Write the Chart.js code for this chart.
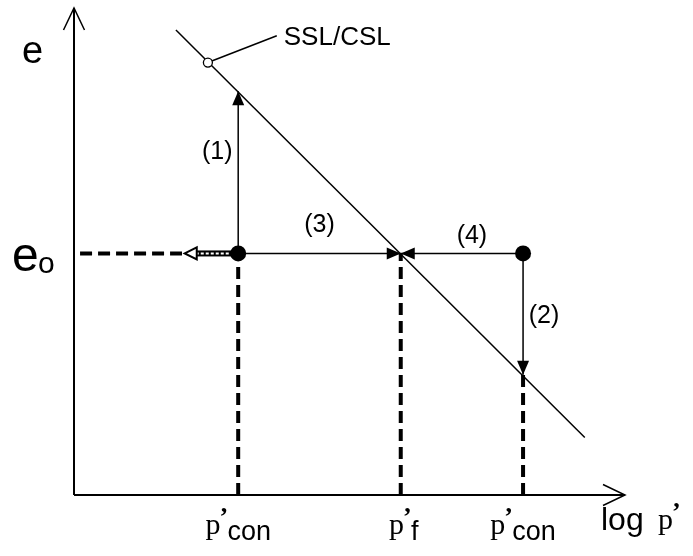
<!DOCTYPE html>
<html>
<head>
<meta charset="utf-8">
<script src="https://cdn.jsdelivr.net/npm/chart.js@4"></script>
<style>
  html, body { margin: 0; padding: 0; background: #fff; }
  #wrap { width: 693px; height: 556px; position: relative; }
</style>
</head>
<body>
<div id="wrap"><canvas id="chart"></canvas></div>
<script>
// ---- state path values: x = log p', y = void ratio e ----
const axisMax = 10;
const logP = [2.98, 5.93, 8.15];            // p'con (dense side), p'f, p'con (loose side)
const logPLabels = [['p', 'con'], ['p', 'f'], ['p', 'con']];
const eO = 4.96;                             // initial void ratio e_o
const eOnSSL = [8.29, 4.96, 2.47];           // e on the SSL/CSL at each logP
const sslLogP = [1.85, 9.27];                // steady / critical state line
const sslE = [9.55, 1.18];
const sslMarker = [2.43, 8.88];              // open circle on the SSL + its tag
const sslTag = [3.68, 9.43];
const eoProjection = [0.11, 1.96];           // dashed e_o read-off to the axis
const eoArrowTip = 2.01;
const pathLabels = ['(1)', '(2)', '(3)', '(4)'];

const SANS = '"Liberation Sans", Arial, sans-serif';
const SERIF = '"Liberation Serif", "Times New Roman", serif';

function seg(pts, extra) {
  return Object.assign({
    data: pts.map(p => ({ x: p[0], y: p[1] })),
    showLine: true,
    borderColor: '#000',
    borderWidth: 1.5,
    pointRadius: 0,
    fill: false,
    clip: false
  }, extra || {});
}

// listed bottom layer first
const layers = [
  // e and log p' axes
  seg([[0, 0], [axisMax, 0]], { borderWidth: 2, arrow: 'open' }),
  seg([[0, 0], [0, axisMax]], { borderWidth: 2, arrow: 'open' }),
  // dashed drops to the log p' axis
  ...logP.map((x, i) => seg([[x, 0], [x, Math.min(eO, eOnSSL[i])]],
    { borderWidth: 4, borderDash: [12, 6] })),
  seg([[eoProjection[0], eO], [eoProjection[1], eO]], { borderWidth: 4, borderDash: [12, 6] }),
  // SSL/CSL
  seg([[sslLogP[0], sslE[0]], [sslLogP[1], sslE[1]]]),
  seg([sslMarker, sslTag]),
  // paths (1)..(4)
  seg([[logP[0], eO], [logP[0], eOnSSL[0]]], { arrow: 'solid' }),
  seg([[logP[2], eO], [logP[2], eOnSSL[2]]], { arrow: 'solid' }),
  seg([[logP[0], eO], [logP[1], eO]], { arrow: 'solid' }),
  seg([[logP[2], eO], [logP[1], eO]], { arrow: 'solid' }),
  // start states
  {
    data: [{ x: logP[0], y: eO }, { x: logP[2], y: eO }],
    showLine: false, pointRadius: 8, pointBackgroundColor: '#000',
    pointBorderColor: '#000', pointBorderWidth: 0, clip: false
  },
  {
    data: [{ x: sslMarker[0], y: sslMarker[1] }],
    showLine: false, pointRadius: 4.5, pointBackgroundColor: '#fff',
    pointBorderColor: '#000', pointBorderWidth: 1.3, clip: false
  }
];
// chart.js paints dataset 0 last, so flip the stack
const datasets = layers.reverse();

const arrowHeads = {
  id: 'arrowHeads',
  afterDatasetsDraw(chart) {
    const ctx = chart.ctx;
    chart.data.datasets.forEach((ds, i) => {
      if (!ds.arrow) return;
      const pts = chart.getDatasetMeta(i).data;
      const a = pts[pts.length - 2], b = pts[pts.length - 1];
      ctx.save();
      ctx.translate(b.x, b.y);
      ctx.rotate(Math.atan2(b.y - a.y, b.x - a.x));
      ctx.beginPath();
      if (ds.arrow === 'open') {
        ctx.moveTo(-22, -10.5); ctx.lineTo(0, 0); ctx.lineTo(-22, 10.5);
        ctx.lineWidth = 1.5; ctx.strokeStyle = '#000'; ctx.stroke();
      } else {
        ctx.moveTo(0, 0); ctx.lineTo(-14, -6); ctx.lineTo(-14, 6); ctx.closePath();
        ctx.fillStyle = '#000'; ctx.fill();
      }
      ctx.restore();
    });

    // hollow (double-line) arrow pointing at the e_o read-off
    const xs = chart.scales.x, ys = chart.scales.y;
    const tip = xs.getPixelForValue(eoArrowTip);
    const start = xs.getPixelForValue(logP[0]) - 7;
    const y = ys.getPixelForValue(eO);
    ctx.save();
    ctx.fillStyle = '#000';
    ctx.fillRect(tip + 11, y - 3, start - tip - 11, 6);
    ctx.strokeStyle = '#fff'; ctx.lineWidth = 2; ctx.setLineDash([3, 2]);
    ctx.beginPath(); ctx.moveTo(tip + 11, y); ctx.lineTo(start - 1, y); ctx.stroke();
    ctx.setLineDash([]);
    ctx.beginPath();
    ctx.moveTo(tip, y); ctx.lineTo(tip + 12, y - 6); ctx.lineTo(tip + 12, y + 6); ctx.closePath();
    ctx.fillStyle = '#fff'; ctx.fill();
    ctx.strokeStyle = '#000'; ctx.lineWidth = 2; ctx.stroke();
    ctx.restore();
  }
};

// p' with a raised, heavy prime and a sans subscript
function drawPrime(ctx, x, baseline) {
  ctx.font = 'bold 26px ' + SERIF;
  ctx.fillText('\u2019', x, baseline);
}

function drawPLabel(ctx, cx, baseline, sub, subSize) {
  ctx.font = '30px ' + SERIF;
  const pw = ctx.measureText('p').width;
  const aw = 7;
  ctx.font = subSize + 'px ' + SANS;
  const sw = ctx.measureText(sub).width;
  const x = cx - (pw + aw + sw) / 2;
  ctx.font = '30px ' + SERIF;
  ctx.fillText('p', x, baseline);
  drawPrime(ctx, x + pw - 1, baseline - 9);
  ctx.font = subSize + 'px ' + SANS;
  ctx.fillText(sub, x + pw + aw, baseline + 6);
}

const annotations = {
  id: 'annotations',
  afterDraw(chart) {
    const ctx = chart.ctx;
    const X = v => chart.scales.x.getPixelForValue(v);
    const Y = v => chart.scales.y.getPixelForValue(v);
    ctx.save();
    ctx.fillStyle = '#000';
    ctx.textBaseline = 'alphabetic';
    ctx.textAlign = 'left';

    // axis titles
    ctx.font = '38px ' + SANS;
    ctx.fillText('e', X(0) - 52, Y(axisMax) + 55);
    ctx.font = '48px ' + SANS;
    ctx.fillText('e', X(0) - 62, Y(eO) + 18);
    ctx.font = '30px ' + SANS;
    ctx.fillText('o', X(0) - 36, Y(eO) + 20);

    ctx.font = '32px ' + SANS;
    ctx.fillText('log', X(axisMax) - 24, Y(0) + 35);
    ctx.font = '30px ' + SERIF;
    const px = X(axisMax) + 33;
    ctx.fillText('p', px, Y(0) + 34);
    drawPrime(ctx, px + ctx.measureText('p').width - 1, Y(0) + 25);

    // SSL/CSL tag
    ctx.font = '26px ' + SANS;
    ctx.fillText('SSL/CSL', X(sslTag[0]) + 7, Y(sslTag[1]) + 9);

    // path numbers
    ctx.font = '25px ' + SANS;
    ctx.textAlign = 'center';
    ctx.fillText(pathLabels[0], X(logP[0]) - 21, Y(eO) - 94);
    ctx.fillText(pathLabels[1], X(logP[2]) + 21, Y(eO) + 70);
    ctx.fillText(pathLabels[2], (X(logP[0]) + X(logP[1])) / 2, Y(eO) - 21);
    ctx.fillText(pathLabels[3], (X(logP[1]) + X(logP[2])) / 2 + 10, Y(eO) - 10);

    // log p' tick labels
    ctx.textAlign = 'left';
    logP.forEach((x, i) => {
      drawPLabel(ctx, X(x) + (i === 1 ? 3 : 0), Y(0) + 39, logPLabels[i][1], 27);
    });
    ctx.restore();
  }
};

new Chart(document.getElementById('chart'), {
  type: 'scatter',
  data: { datasets },
  options: {
    responsive: true,
    maintainAspectRatio: false,
    animation: false,
    events: [],
    layout: { padding: { left: 74, right: 68, top: 5, bottom: 61 } },
    plugins: { legend: { display: false }, tooltip: { enabled: false } },
    scales: {
      x: { type: 'linear', min: 0, max: axisMax, display: false },
      y: { type: 'linear', min: 0, max: axisMax, display: false }
    }
  },
  plugins: [arrowHeads, annotations]
});
</script>
</body>
</html>
